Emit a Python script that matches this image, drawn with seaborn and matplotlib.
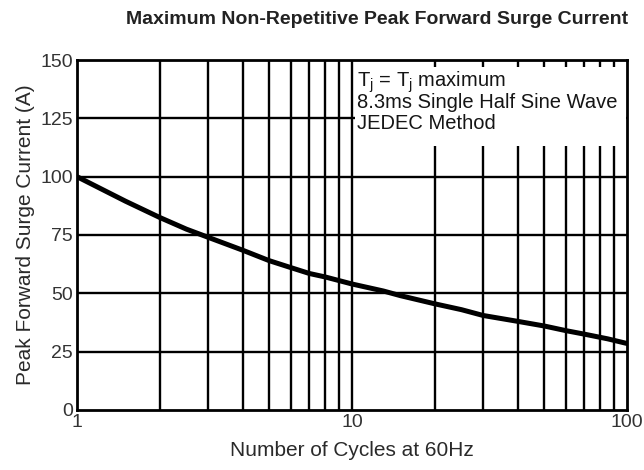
import numpy as np
import pandas as pd
import matplotlib
matplotlib.use("Agg")
import matplotlib.pyplot as plt
from matplotlib.patches import Rectangle
import seaborn as sns

# values
cycles = [1, 1.5, 2, 2.5, 3, 4, 5, 6, 7, 8, 10, 13, 15, 20, 25, 30, 40, 50, 60, 70, 85, 100]
current = [100, 89.5, 82.5, 77.5, 74, 68.5, 64, 61, 58.5, 57, 54, 51, 49, 45.5, 43, 40.5, 38, 36,
           34, 32.5, 30.5, 28.5]
y_ticks = [0, 25, 50, 75, 100, 125, 150]
x_ticks = [1, 10, 100]
x_minor = [2, 3, 4, 5, 6, 7, 8, 9, 20, 30, 40, 50, 60, 70, 80, 90]
note_lines = [r"T$_\mathregular{j}$ = T$_\mathregular{j}$ maximum",
              "8.3ms Single Half Sine Wave",
              "JEDEC Method"]

df = pd.DataFrame({"cycles": cycles, "current": current})

sns.set_style("white")
plt.rcParams["font.family"] = ["Liberation Sans", "DejaVu Sans"]
plt.rcParams["mathtext.fontset"] = "custom"
plt.rcParams["mathtext.rm"] = "Liberation Sans"

fig = plt.figure(figsize=(6.44, 4.70), dpi=100)
ax = fig.add_axes([0.1196, 0.1277, 0.854, 0.7446])

ax.set_xscale("log")
ax.set_xlim(1, 100)
ax.set_ylim(0, 150)

# grid
for y in y_ticks[1:-1]:
    ax.axhline(y, color="black", lw=1.7, zorder=1)
for x in x_minor + [10]:
    ax.axvline(x, color="black", lw=1.7, zorder=1)

# white box behind the note
ax.add_patch(Rectangle((10.25, 113), 99.3 - 10.25, 34, facecolor="white",
                       edgecolor="none", zorder=2))

sns.lineplot(data=df, x="cycles", y="current", color="black", lw=3.6,
             ax=ax, zorder=3)

for i, line in enumerate(note_lines):
    ax.text(10.45, 140.6 - i * 9.0, line, fontsize=14.5, color="#151515",
            va="center", ha="left", zorder=4)

ax.set_xticks(x_ticks)
ax.set_xticklabels([str(v) for v in x_ticks])
ax.xaxis.set_minor_locator(matplotlib.ticker.NullLocator())
ax.set_yticks(y_ticks)
ax.tick_params(length=0, labelsize=14, colors="#333333", pad=3)

for s in ax.spines.values():
    s.set_color("black")
    s.set_linewidth(2)
    s.set_zorder(5)

ax.set_xlabel("Number of Cycles at 60Hz", fontsize=15, color="#2a2a2a", labelpad=7)
ax.set_ylabel("Peak Forward Surge Current (A)", fontsize=15, color="#2a2a2a", labelpad=4)
fig.suptitle("Maximum Non-Repetitive Peak Forward Surge Current", fontsize=14,
             fontweight="bold", color="#222222", x=0.585, y=0.977)

fig.savefig("out.png", dpi=100)
